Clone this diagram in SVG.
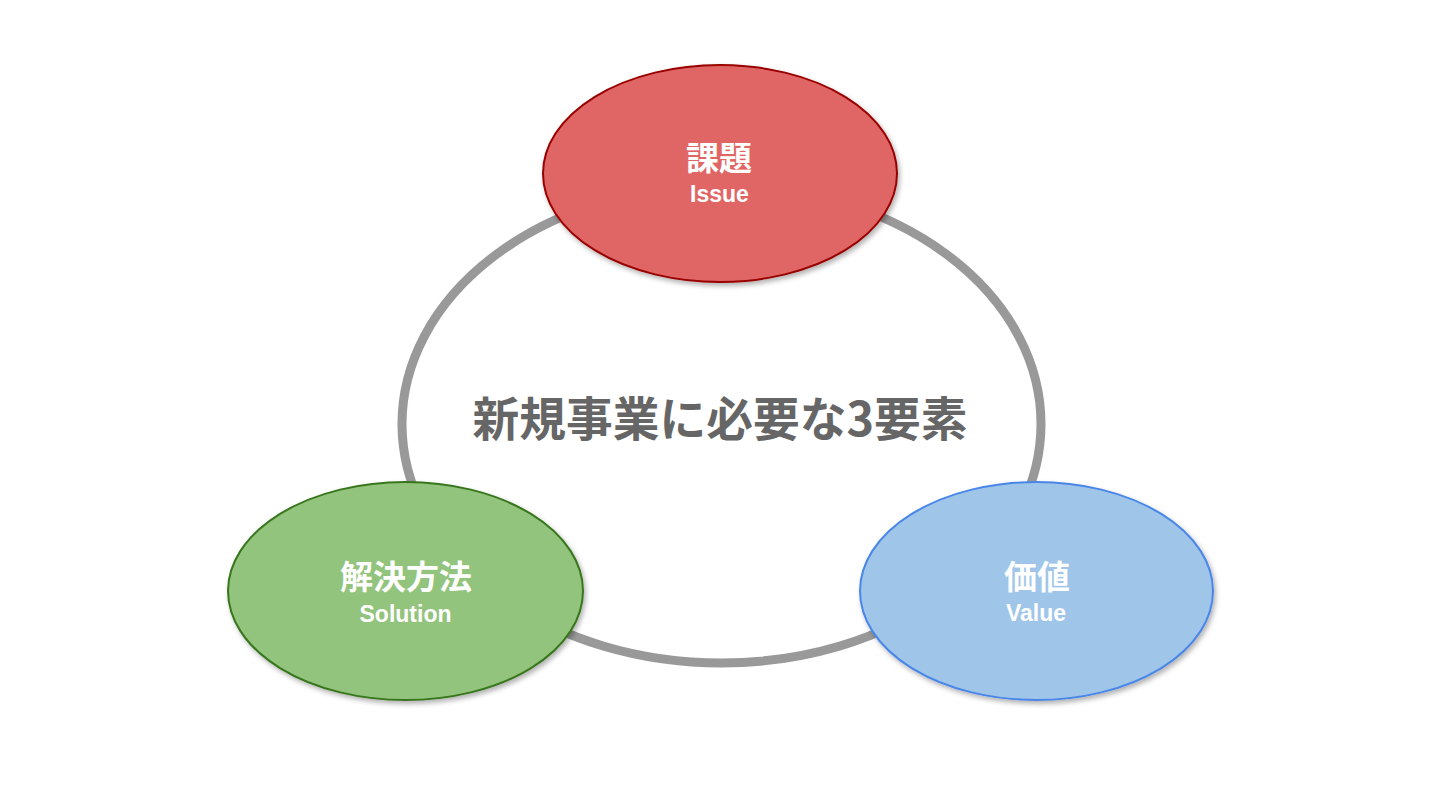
<svg xmlns="http://www.w3.org/2000/svg" width="1440" height="810" viewBox="0 0 1440 810">
  <defs>
    <filter id="shadow" x="-10%" y="-10%" width="125%" height="130%">
      <feDropShadow dx="2" dy="3" stdDeviation="2.5" flood-color="#000" flood-opacity="0.3"/>
    </filter>
  </defs>
  <style>
    .ring { fill: none; stroke: #999999; stroke-width: 9; }
    .node { stroke-width: 2; filter: url(#shadow); }
    .ja { font-family: "Noto Sans CJK JP", "Noto Sans CJK SC", sans-serif; font-weight: bold; fill: #ffffff; text-anchor: middle; font-size: 33px; }
    .en { font-family: "Liberation Sans", Arial, sans-serif; font-weight: bold; fill: #ffffff; text-anchor: middle; font-size: 23px; }
    .title { font-family: "Noto Sans CJK JP", "Noto Sans CJK SC", sans-serif; font-weight: bold; fill: #666666; text-anchor: middle; font-size: 47px; }
  </style>
  <rect width="1440" height="810" fill="#ffffff"/>

  <g id="connectors">
    <ellipse class="ring" cx="721.5" cy="424" rx="319.5" ry="239"/>
  </g>

  <g id="center-title">
    <text class="title" x="720" y="436" textLength="495" lengthAdjust="spacingAndGlyphs">新規事業に必要な3要素</text>
  </g>

  <g id="node-issue">
    <ellipse class="node" cx="720" cy="173.5" rx="177" ry="108.5" fill="#e06666" stroke="#990000"/>
    <text class="ja" x="719" y="170">課題</text>
    <text class="en" x="719.5" y="202">Issue</text>
  </g>

  <g id="node-solution">
    <ellipse class="node" cx="405.5" cy="591" rx="177.5" ry="109" fill="#93c47d" stroke="#38761d"/>
    <text class="ja" x="406" y="589">解決方法</text>
    <text class="en" x="405.5" y="622">Solution</text>
  </g>

  <g id="node-value">
    <ellipse class="node" cx="1036.5" cy="591" rx="176.5" ry="109" fill="#9fc5e8" stroke="#4a86e8"/>
    <text class="ja" x="1037" y="589">価値</text>
    <text class="en" x="1036" y="621">Value</text>
  </g>
</svg>
